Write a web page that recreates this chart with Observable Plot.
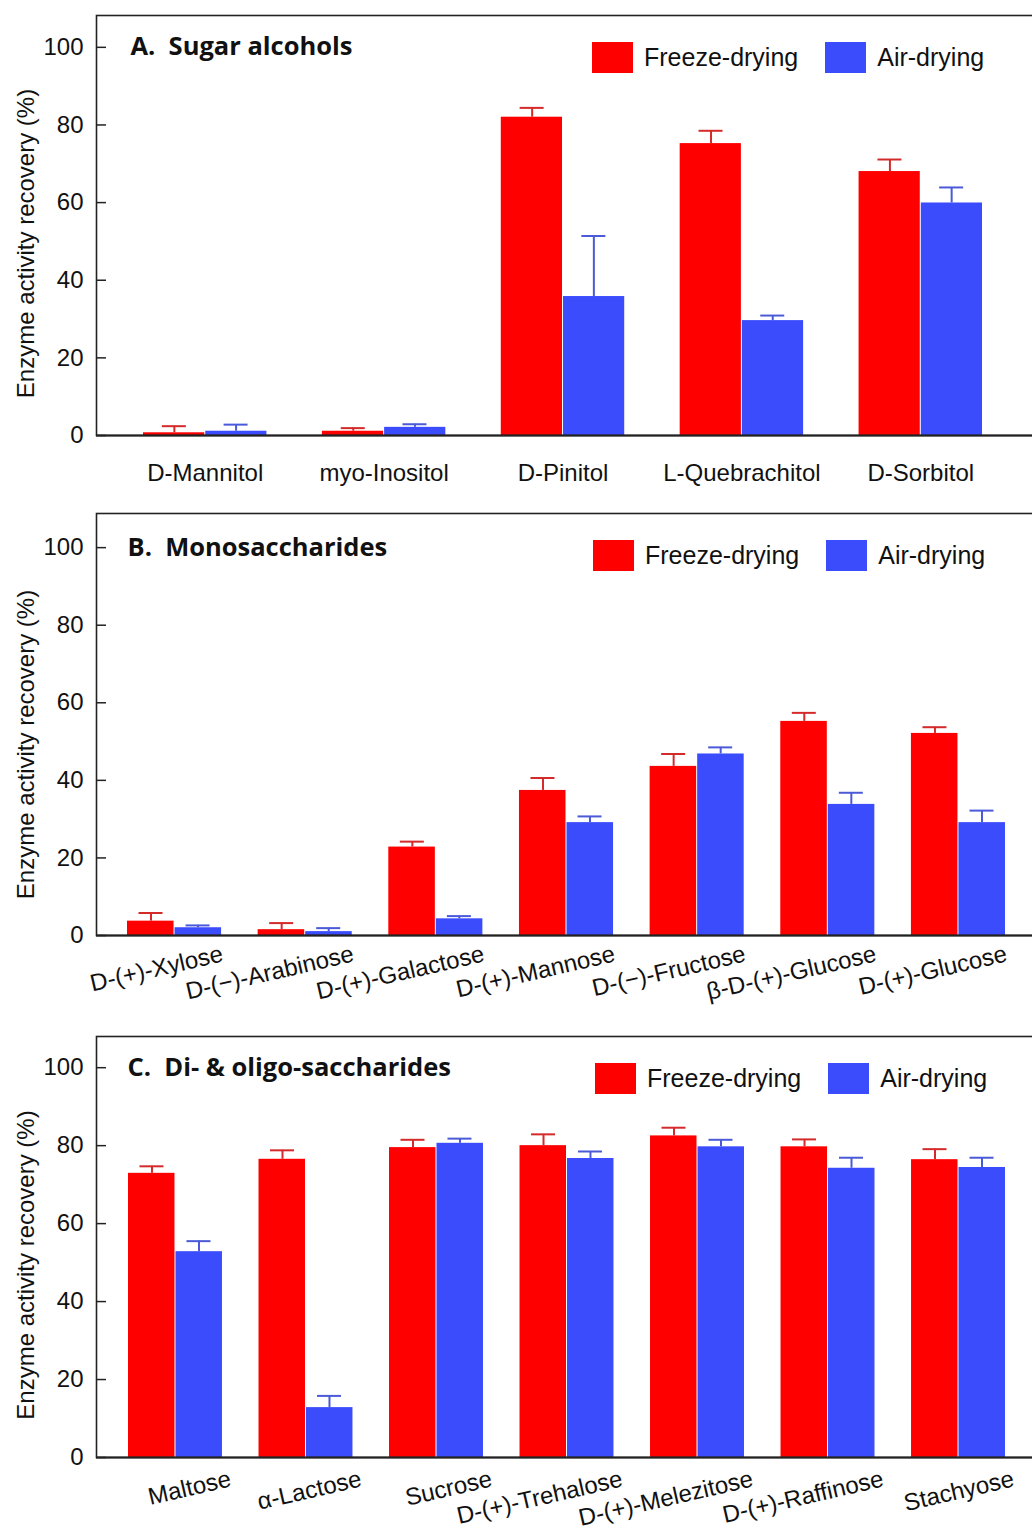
<!DOCTYPE html>
<html>
<head>
<meta charset="utf-8">
<script src="https://cdn.jsdelivr.net/npm/d3@7"></script>
<script src="https://cdn.jsdelivr.net/npm/@observablehq/plot@0.6"></script>
<style>
  html, body { margin: 0; padding: 0; background: #fff; overflow: hidden; }
  .panel { position: relative; width: 1032px; }
  .panel svg { display: block; }
  .legend { position: absolute; }
  .legend > div { font: 25px "Liberation Sans", Arial, sans-serif !important; color: #111 !important; margin: 0 !important; white-space: nowrap; }
  .legend span { margin-right: 27px !important; }
  .legend span > svg { margin-right: 11px !important; }
</style>
</head>
<body>
<div id="root"></div>
<script>
// ---------- data ----------
const seriesNames = ["Freeze-drying", "Air-drying"];
const seriesColors = ["#ff0000", "#3b4cfd"];
const errorColors = ["#d42a2a", "#4a5ad8"];
const yTicks = [0, 20, 40, 60, 80, 100];
const yTitle = "Enzyme activity recovery (%)";

const titleA = "A.  Sugar alcohols";
const catsA = ["D-Mannitol", "myo-Inositol", "D-Pinitol", "L-Quebrachitol", "D-Sorbitol"];
const freezeA = [0.7, 1.1, 82.0, 75.2, 68.0];
const freezeErrA = [1.7, 0.8, 2.4, 3.3, 3.1];
const airA = [1.1, 2.1, 35.8, 29.6, 59.9];
const airErrA = [1.7, 0.8, 15.6, 1.3, 4.0];

const titleB = "B.  Monosaccharides";
const catsB = ["D-(+)-Xylose", "D-(\u2212)-Arabinose", "D-(+)-Galactose", "D-(+)-Mannose", "D-(\u2212)-Fructose", "\u03b2-D-(+)-Glucose", "D-(+)-Glucose"];
const freezeB = [3.7, 1.5, 22.8, 37.4, 43.6, 55.2, 52.1];
const freezeErrB = [2.1, 1.7, 1.4, 3.2, 3.2, 2.2, 1.6];
const airB = [2.0, 1.0, 4.3, 29.1, 46.8, 33.8, 29.1];
const airErrB = [0.6, 0.9, 0.7, 1.6, 1.7, 3.0, 3.1];

const titleC = "C.  Di- & oligo-saccharides";
const catsC = ["Maltose", "\u03b1-Lactose", "Sucrose", "D-(+)-Trehalose", "D-(+)-Melezitose", "D-(+)-Raffinose", "Stachyose"];
const freezeC = [72.9, 76.5, 79.5, 80.0, 82.5, 79.7, 76.4];
const freezeErrC = [1.8, 2.3, 2.0, 2.9, 2.1, 1.9, 2.7];
const airC = [52.8, 12.8, 80.6, 76.7, 79.7, 74.2, 74.4];
const airErrC = [2.7, 3.0, 1.2, 1.8, 1.8, 2.7, 2.5];

// ---------- drawing ----------
const font = '"Liberation Sans", Arial, Helvetica, sans-serif';
const titleFont = '"Open Sans", "Noto Sans", sans-serif';

function panel(cfg) {
  const rows = [];
  cfg.cats.forEach((c, i) => {
    rows.push({group: c, series: seriesNames[0], value: cfg.freeze[i], err: cfg.freezeErr[i]});
    rows.push({group: c, series: seriesNames[1], value: cfg.air[i], err: cfg.airErr[i]});
  });
  const fRows = rows.filter(d => d.series === seriesNames[0]);
  const aRows = rows.filter(d => d.series === seriesNames[1]);
  const bw = d3.scaleBand(cfg.cats, cfg.xRange).paddingInner(cfg.pad).paddingOuter(0).bandwidth();
  const half = bw / 2;
  const cap = 12;

  const labelMark = cfg.rotate
    ? Plot.text(cfg.cats, {x: d => d, frameAnchor: "bottom", rotate: -13, textAnchor: "end", lineAnchor: "middle",
        dx: cfg.labelDx, dy: cfg.labelDy, fontSize: 24, fill: "#111"})
    : Plot.text(cfg.cats, {x: d => d, frameAnchor: "bottom", lineAnchor: "top", dy: 28, fontSize: 24, fill: "#111"});

  const svg = Plot.plot({
    width: 1032,
    height: cfg.height,
    marginTop: cfg.marginTop,
    marginBottom: cfg.marginBottom,
    marginLeft: 96,
    marginRight: -4,
    style: {fontFamily: font, fontSize: "24px", color: "#111", background: "#fff", overflow: "hidden"},
    x: {type: "band", domain: cfg.cats, range: cfg.xRange, paddingInner: cfg.pad, paddingOuter: 0, round: false, axis: null},
    y: {domain: [0, cfg.yMax]},
    marks: [
      Plot.barY(fRows, {x: "group", y: "value", fill: seriesColors[0], insetRight: half + 0.5}),
      Plot.barY(aRows, {x: "group", y: "value", fill: seriesColors[1], insetLeft: half + 0.5}),
      Plot.ruleX(fRows, {x: "group", y1: "value", y2: d => d.value + d.err, dx: -bw / 4, stroke: errorColors[0], strokeWidth: 2}),
      Plot.tickY(fRows, {x: "group", y: d => d.value + d.err, insetLeft: bw / 4 - cap, insetRight: 3 * bw / 4 - cap, stroke: errorColors[0], strokeWidth: 2}),
      Plot.ruleX(aRows, {x: "group", y1: "value", y2: d => d.value + d.err, dx: bw / 4, stroke: errorColors[1], strokeWidth: 2}),
      Plot.tickY(aRows, {x: "group", y: d => d.value + d.err, insetLeft: 3 * bw / 4 - cap, insetRight: bw / 4 - cap, stroke: errorColors[1], strokeWidth: 2}),
      Plot.frame({stroke: "#222", strokeWidth: 1.6}),
      Plot.ruleY([0], {stroke: "#222", strokeWidth: 2}),
      Plot.axisY({ticks: yTicks, tickSize: 0, tickPadding: 13, fontSize: 24, label: null, fill: "#111"}),
      Plot.axisY({ticks: yTicks, tickSize: 10, dx: 10, tickFormat: () => "", label: null, stroke: "#222", strokeWidth: 1.5}),
      Plot.text([yTitle], {frameAnchor: "left", textAnchor: "middle", lineAnchor: "middle", rotate: -90, dx: -70, dy: cfg.yTitleDy, fontSize: 24, fill: "#111"}),
      Plot.text([cfg.title], {frameAnchor: "top-left", textAnchor: "start", lineAnchor: "top", dx: cfg.titleDx, dy: cfg.titleDy,
        fontFamily: titleFont, fontWeight: "bold", fontSize: 25.5, fill: "#111"}),
      labelMark
    ]
  });

  const wrap = document.createElement("div");
  wrap.className = "panel";
  wrap.appendChild(svg);

  const legend = Plot.legend({
    legend: "swatches",
    color: {type: "ordinal", domain: seriesNames, range: seriesColors},
    swatchWidth: 41,
    swatchHeight: 31,
    style: {fontSize: "25px", fontFamily: font}
  });
  const lg = document.createElement("div");
  lg.className = "legend";
  lg.style.left = cfg.legendLeft + "px";
  lg.style.top = cfg.legendTop + "px";
  lg.appendChild(legend);
  wrap.appendChild(lg);
  return wrap;
}

const root = document.getElementById("root");
root.appendChild(panel({
  title: titleA, cats: catsA, freeze: freezeA, freezeErr: freezeErrA, air: airA, airErr: airErrA,
  height: 500, marginTop: 15, marginBottom: 65, yMax: 108.2, xRange: [143, 982], pad: 0.31,
  rotate: false, titleDx: 34, titleDy: 21, yTitleDy: 18, legendLeft: 592, legendTop: 41
}));
root.appendChild(panel({
  title: titleB, cats: catsB, freeze: freezeB, freezeErr: freezeErrB, air: airB, airErr: airErrB,
  height: 520, marginTop: 13, marginBottom: 85, yMax: 108.8, xRange: [127, 1005], pad: 0.28,
  rotate: true, labelDx: 48, labelDy: 18, titleDx: 31, titleDy: 24, yTitleDy: 20, legendLeft: 593, legendTop: 39
}));
root.appendChild(panel({
  title: titleC, cats: catsC, freeze: freezeC, freezeErr: freezeErrC, air: airC, airErr: airErrC,
  height: 511, marginTop: 16, marginBottom: 74, yMax: 108.0, xRange: [128, 1005], pad: 0.28,
  rotate: true, labelDx: 55, labelDy: 21, titleDx: 31, titleDy: 21, yTitleDy: 18, legendLeft: 595, legendTop: 42
}));
</script>
</body>
</html>
